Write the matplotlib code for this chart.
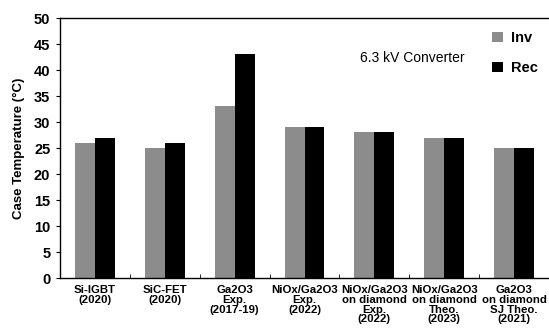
import numpy as np
import matplotlib
matplotlib.use("Agg")
import matplotlib.pyplot as plt

plt.rcParams["font.family"] = ["Liberation Sans", "DejaVu Sans"]

categories = [
    "Si-IGBT\n(2020)",
    "SiC-FET\n(2020)",
    "Ga2O3\nExp.\n(2017-19)",
    "NiOx/Ga2O3\nExp.\n(2022)",
    "NiOx/Ga2O3\non diamond\nExp.\n(2022)",
    "NiOx/Ga2O3\non diamond\nTheo.\n(2023)",
    "Ga2O3\non diamond\nSJ Theo.\n(2021)",
]
inv = [26, 25, 33, 29, 28, 27, 25]
rec = [27, 26, 43, 29, 28, 27, 25]
yticks = [0, 5, 10, 15, 20, 25, 30, 35, 40, 45, 50]


def main():
    fig = plt.figure(figsize=(5.49, 3.32), dpi=100)
    ax = fig.add_axes([60 / 549, 1 - 278 / 332, 489 / 549, 260 / 332])

    x = np.arange(len(categories))
    w = 20 / 70
    ax.bar(x - w / 2, inv, w, color="#8c8c8c", label="Inv")
    ax.bar(x + w / 2, rec, w, color="black", label="Rec")

    ax.set_xlim(-0.5, len(categories) - 0.5)
    ax.set_ylim(0, 50)
    ax.set_yticks(yticks)
    ax.set_xticks(x)
    ax.set_xticklabels(categories, fontsize=8.2, fontweight="bold", linespacing=0.98)
    ax.tick_params(axis="x", length=0, pad=5)
    ax.set_xticks(np.arange(len(categories) - 1) + 0.5, minor=True)
    ax.tick_params(axis="x", which="minor", direction="in", length=3)
    ax.tick_params(axis="y", labelsize=10.5, length=3, direction="out", pad=4)
    for lab in ax.get_yticklabels():
        lab.set_fontweight("bold")
    ax.spines["right"].set_visible(False)
    for s in ("left", "bottom", "top"):
        ax.spines[s].set_linewidth(1.0)

    ax.set_ylabel("Case Temperature (°C)", fontsize=9.5, fontweight="bold", labelpad=6)
    ax.text(0.72, 0.845, "6.3 kV Converter", transform=ax.transAxes,
            ha="center", va="center", fontsize=10)
    ax.legend(loc="upper right", bbox_to_anchor=(1.005, 1.0), frameon=False,
              prop={"weight": "bold", "size": 10.5}, handlelength=0.75, handleheight=0.75,
              handletextpad=0.6, labelspacing=1.1)

    fig.savefig("out.png", dpi=100)
    plt.close(fig)


if __name__ == "__main__":
    main()
